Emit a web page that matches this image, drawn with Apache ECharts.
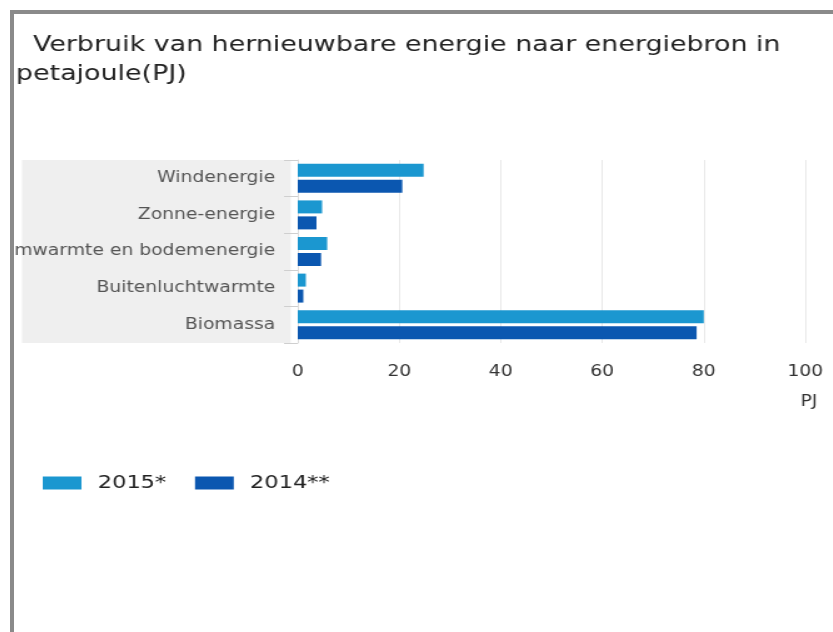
<!DOCTYPE html>
<html>
<head>
<meta charset="utf-8">
<title>Verbruik van hernieuwbare energie</title>
<script src="https://cdn.jsdelivr.net/npm/echarts@6/dist/echarts.min.js"></script>
<style>
  html, body { margin: 0; padding: 0; background: #fff; overflow: hidden; }
  #frame {
    position: absolute; left: 10px; top: 10px; width: 900px; height: 700px;
    border-left: 4px solid #8a8a8a; border-top: 4px solid #8a8a8a;
  }
  /* chart is laid out narrow and displayed widened */
  #chart {
    position: absolute; left: 0; top: 0; width: 656px; height: 618px;
    transform: scaleX(1.25); transform-origin: 0 0;
  }
</style>
</head>
<body>
<div id="frame"><div id="chart"></div></div>
<script>
// Energy sources (top to bottom)
const categories = ['Windenergie', 'Zonne-energie', 'Bodemwarmte en bodemenergie', 'Buitenluchtwarmte', 'Biomassa'];
// Consumption in PJ
const values2015 = [24.8, 4.8, 5.8, 1.6, 80.0];
const values2014 = [20.6, 3.7, 4.6, 1.1, 78.6];
const seriesNames = ['2015*', '2014**'];
const xTicks = [0, 20, 40, 60, 80, 100];

const FONT = 'DejaVu Sans';
const grid = { left: 227, top: 146, width: 406, height: 183 };

const chart = echarts.init(document.getElementById('chart'));

chart.setOption({
  animation: false,
  textStyle: { fontFamily: FONT },
  title: {
    text: '  Verbruik van hernieuwbare energie naar energiebron in\npetajoule(PJ)',
    left: 1.6,
    top: 17,
    padding: 0,
    textStyle: { fontFamily: FONT, fontSize: 21.5, fontWeight: 'normal', color: '#222', lineHeight: 29 }
  },
  legend: {
    data: seriesNames,
    left: 23,
    top: 460,
    padding: 0,
    icon: 'rect',
    itemWidth: 31,
    itemHeight: 13,
    itemGap: 23,
    textStyle: { fontFamily: FONT, fontSize: 18, color: '#222', padding: [0, 0, 0, 8] }
  },
  // long category labels run off the left edge and are clipped there
  grid: Object.assign({ containLabel: false, outerBoundsMode: 'none' }, grid),
  graphic: [{
    type: 'rect',
    z: -10,
    shape: { x: 6.4, y: grid.top, width: grid.left - 12, height: grid.height },
    style: { fill: '#efefef' }
  }],
  xAxis: {
    type: 'value',
    min: xTicks[0],
    max: xTicks[xTicks.length - 1],
    interval: 20,
    name: 'PJ',
    nameLocation: 'end',
    nameGap: 0,
    nameTextStyle: { fontFamily: FONT, fontSize: 15, color: '#333', align: 'center', verticalAlign: 'top', padding: [52, 0, 0, 6] },
    axisLine: { show: false },
    axisTick: { show: false },
    axisLabel: { fontFamily: FONT, fontSize: 15, color: '#333', margin: 22 },
    splitLine: { show: true, lineStyle: { color: '#e8e8e8', width: 1 } }
  },
  yAxis: {
    type: 'category',
    data: categories,
    inverse: true,
    axisLine: { show: true, lineStyle: { color: '#dcdcdc' } },
    axisTick: { show: true, length: 11, lineStyle: { color: '#cfcfcf' } },
    axisLabel: { fontFamily: FONT, fontSize: 15, color: '#555', margin: 18, padding: [6, 0, 0, 0] }
  },
  series: [
    {
      name: seriesNames[0],
      type: 'bar',
      data: values2015,
      barWidth: 13,
      barGap: '23%',
      itemStyle: { color: '#1b97d0' }
    },
    {
      name: seriesNames[1],
      type: 'bar',
      data: values2014,
      barWidth: 13,
      itemStyle: { color: '#0b57b0' }
    }
  ]
});
</script>
</body>
</html>
